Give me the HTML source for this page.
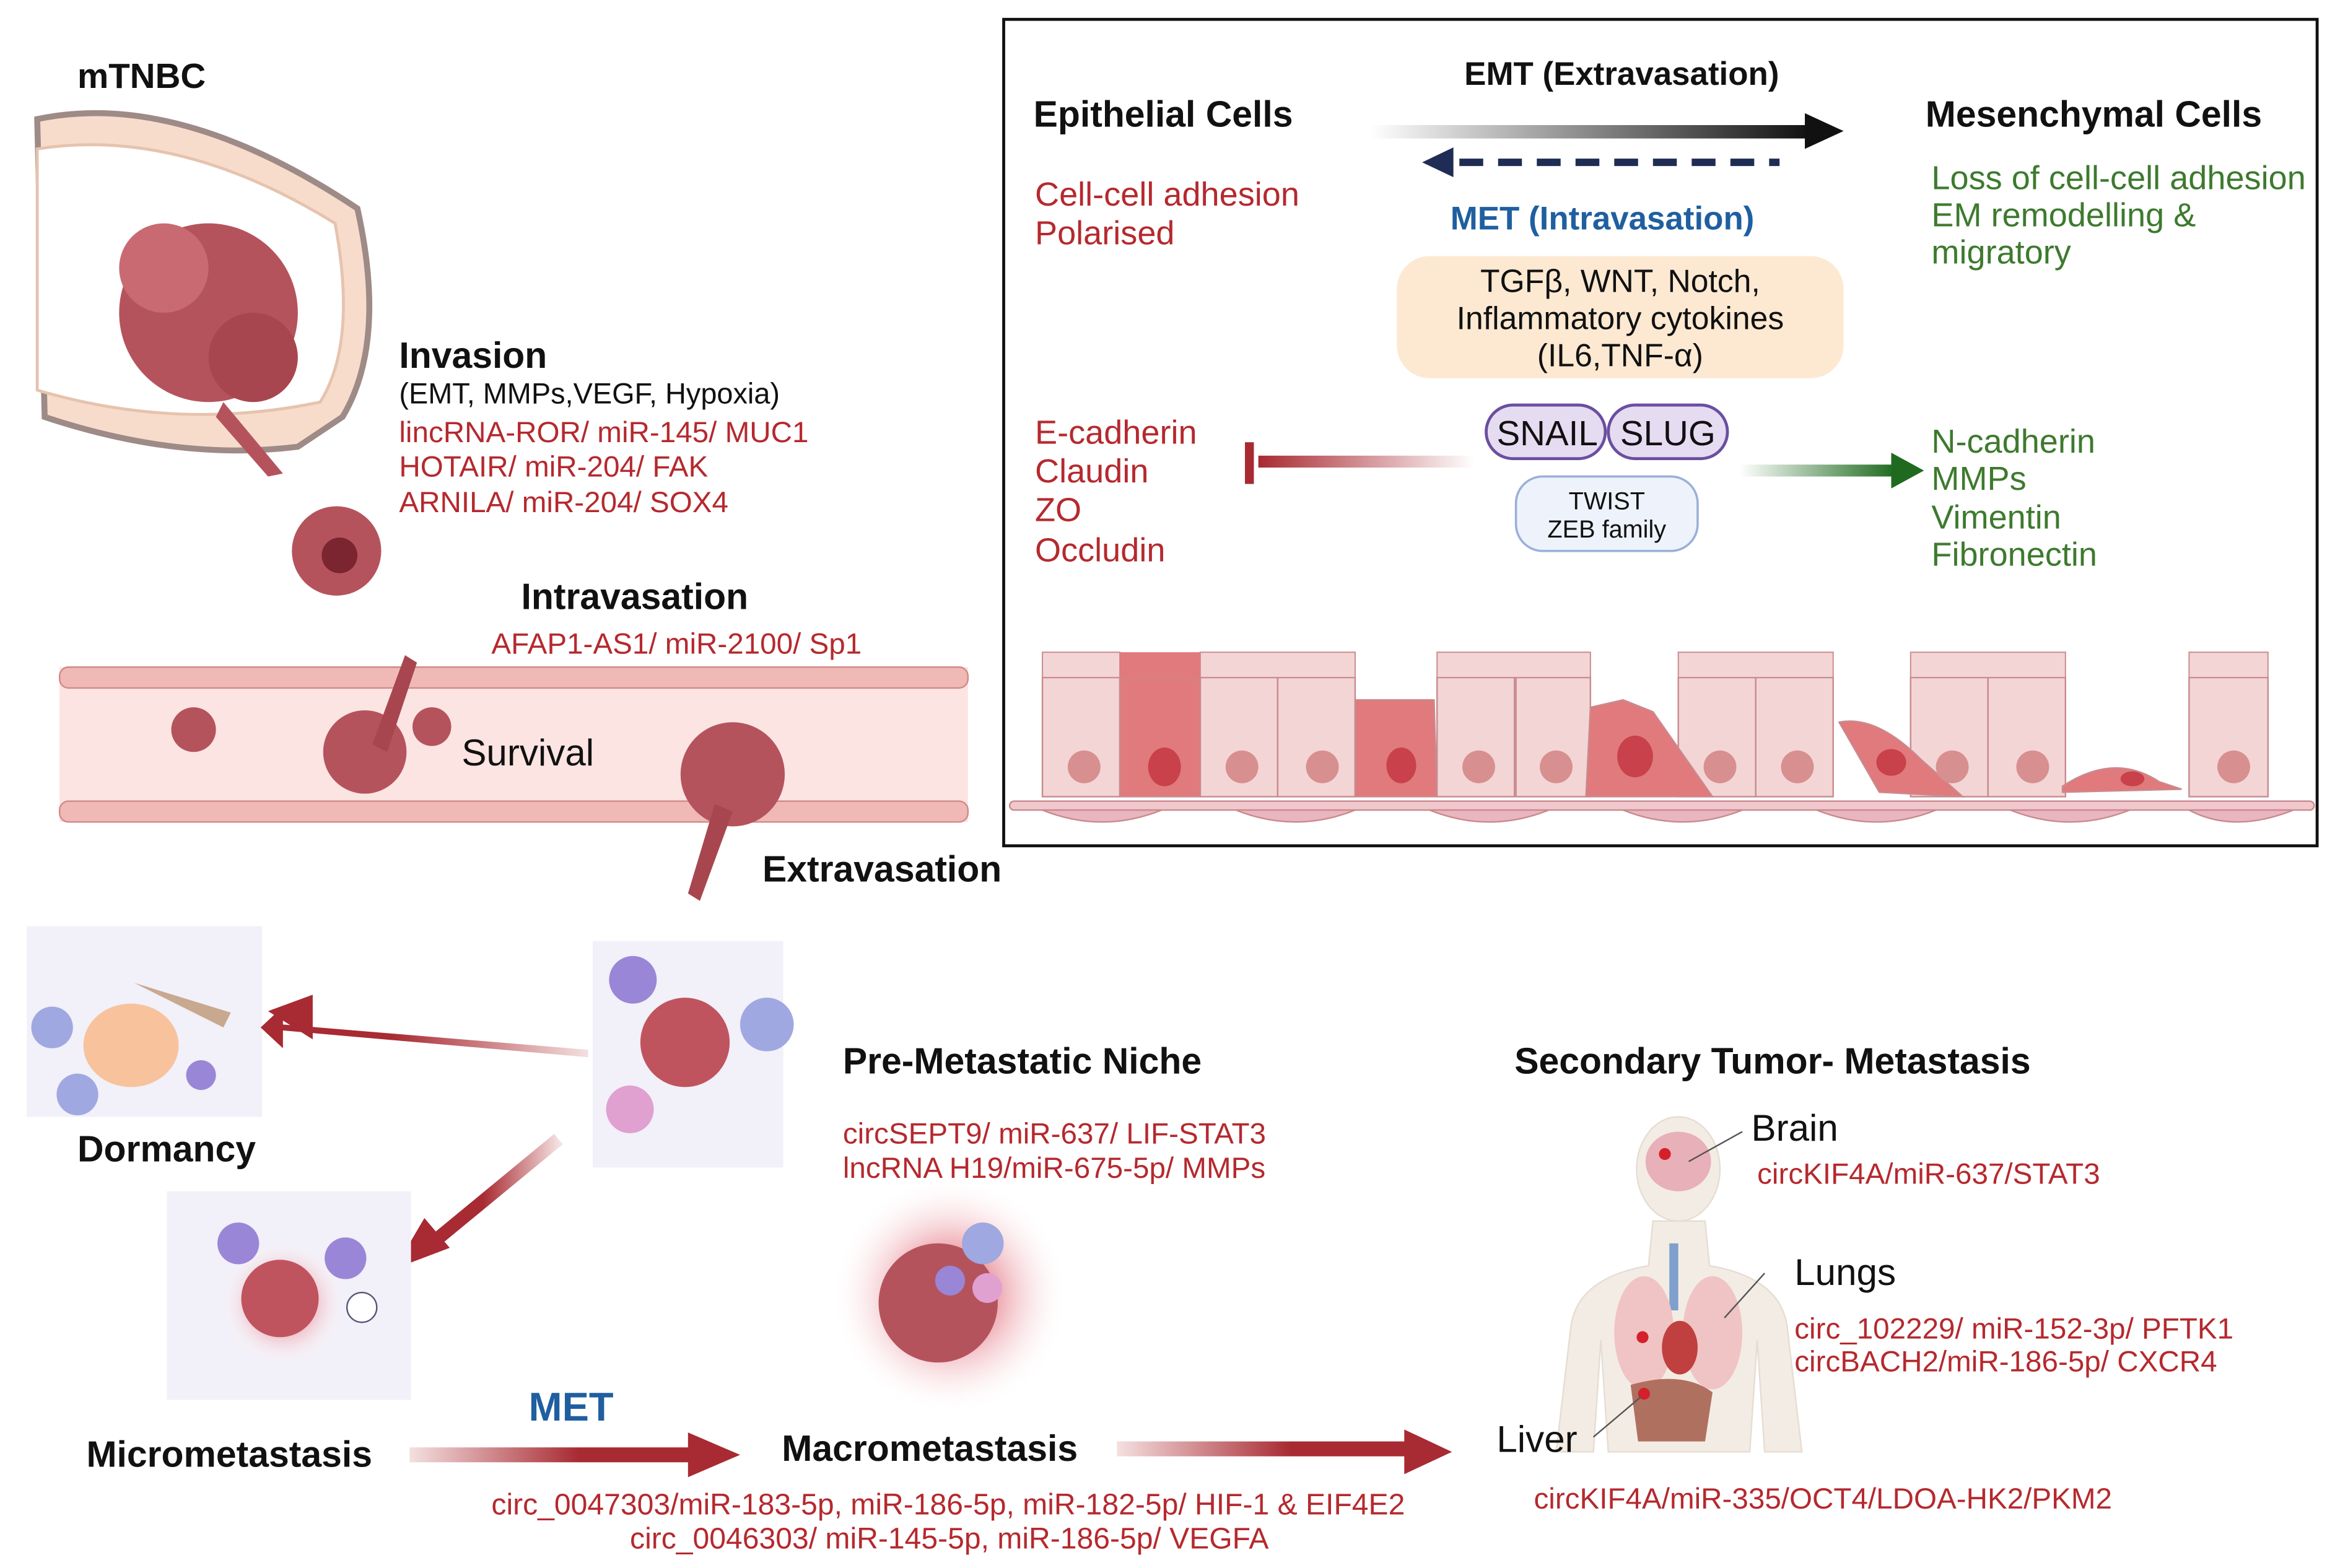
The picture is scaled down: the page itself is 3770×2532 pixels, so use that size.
<!DOCTYPE html>
<html><head><meta charset="utf-8"><style>
html,body{margin:0;padding:0;background:#fff}
svg{display:block}
text{font-family:"Liberation Sans",Arial,sans-serif}
.b{font-weight:bold;fill:#111}
.r{fill:#b5292e}
.g{fill:#3d7a2e}
</style></head><body>
<svg width="3770" height="2532" viewBox="0 0 1568 1053" preserveAspectRatio="none" xmlns="http://www.w3.org/2000/svg">
<defs>
<linearGradient id="ga" x1="0" x2="1"><stop offset="0" stop-color="#fff"/><stop offset="1" stop-color="#111"/></linearGradient>
<linearGradient id="gr" x1="0" x2="1"><stop offset="0" stop-color="#f4e0e0"/><stop offset="0.6" stop-color="#a82a32"/><stop offset="1" stop-color="#a82a32"/></linearGradient>
<linearGradient id="grl" x1="1" x2="0"><stop offset="0" stop-color="#f4e0e0"/><stop offset="0.6" stop-color="#a82a32"/><stop offset="1" stop-color="#a82a32"/></linearGradient>
<linearGradient id="gg" x1="0" x2="1"><stop offset="0" stop-color="#fff"/><stop offset="1" stop-color="#1f6a1f"/></linearGradient>
<linearGradient id="gi" x1="1" x2="0"><stop offset="0" stop-color="#fff"/><stop offset="1" stop-color="#a82a32"/></linearGradient>
<radialGradient id="glow"><stop offset="0.3" stop-color="#e88a96"/><stop offset="1" stop-color="#fff" stop-opacity="0"/></radialGradient>
</defs>

<!-- EMT box -->
<rect x="674" y="13" width="882" height="555" fill="none" stroke="#111" stroke-width="2"/>
<text x="1089" y="57" class="b" font-size="22" text-anchor="middle">EMT (Extravasation)</text>
<text x="694" y="85" class="b" font-size="24.5">Epithelial Cells</text>
<text x="1293" y="85" class="b" font-size="24.5">Mesenchymal Cells</text>
<rect x="920" y="84" width="295" height="9" fill="url(#ga)"/>
<polygon points="1212,76 1238,88 1212,100" fill="#111"/>
<line x1="980" y1="109" x2="1195" y2="109" stroke="#1f2d55" stroke-width="5" stroke-dasharray="16,10"/>
<polygon points="955,109 976,99 976,119" fill="#1f2d55"/>
<text x="1076" y="154" font-size="22" font-weight="bold" fill="#1f5fa0" text-anchor="middle">MET (Intravasation)</text>
<text x="695" y="138" class="r" font-size="22.5">Cell-cell adhesion</text>
<text x="695" y="164" class="r" font-size="22.5">Polarised</text>
<text x="1297" y="127" class="g" font-size="22.5">Loss of cell-cell adhesion</text>
<text x="1297" y="152" class="g" font-size="22.5">EM remodelling &amp;</text>
<text x="1297" y="177" class="g" font-size="22.5">migratory</text>
<rect x="938" y="172" width="300" height="82" rx="22" fill="#fde9d2"/>
<text x="1088" y="196" font-size="21.5" text-anchor="middle" fill="#111">TGFβ, WNT, Notch,</text>
<text x="1088" y="221" font-size="21.5" text-anchor="middle" fill="#111">Inflammatory cytokines</text>
<text x="1088" y="246" font-size="21.5" text-anchor="middle" fill="#111">(IL6,TNF-α)</text>
<rect x="998" y="272" width="80" height="36" rx="18" fill="#e6dcf2" stroke="#6a4fa0" stroke-width="2"/>
<rect x="1080" y="272" width="80" height="36" rx="18" fill="#e6dcf2" stroke="#6a4fa0" stroke-width="2"/>
<text x="1039" y="299" font-size="23.5" text-anchor="middle" fill="#111">SNAIL</text>
<text x="1120" y="299" font-size="23.5" text-anchor="middle" fill="#111">SLUG</text>
<rect x="1018" y="320" width="122" height="50" rx="18" fill="#eef3fb" stroke="#9ab0d8" stroke-width="1.5"/>
<text x="1079" y="342" font-size="16.5" text-anchor="middle" fill="#111">TWIST</text>
<text x="1079" y="361" font-size="16.5" text-anchor="middle" fill="#111">ZEB family</text>
<rect x="845" y="306" width="145" height="8" fill="url(#gi)"/>
<rect x="836" y="297" width="6" height="28" fill="#a82a32"/>
<rect x="1168" y="312" width="105" height="8" fill="url(#gg)"/>
<polygon points="1270,304 1292,316 1270,328" fill="#1f6a1f"/>
<text x="695" y="298" class="r" font-size="22.5">E-cadherin</text>
<text x="695" y="324" class="r" font-size="22.5">Claudin</text>
<text x="695" y="350" class="r" font-size="22.5">ZO</text>
<text x="695" y="377" class="r" font-size="22.5">Occludin</text>
<text x="1297" y="304" class="g" font-size="22.5">N-cadherin</text>
<text x="1297" y="329" class="g" font-size="22.5">MMPs</text>
<text x="1297" y="355" class="g" font-size="22.5">Vimentin</text>
<text x="1297" y="380" class="g" font-size="22.5">Fibronectin</text>

<!-- epithelial row -->
<g stroke="#c98a8e" stroke-width="1">
<g fill="#f3d5d5">
<rect x="700" y="455" width="52" height="80"/><rect x="806" y="455" width="52" height="80"/><rect x="858" y="455" width="52" height="80"/>
<rect x="965" y="455" width="52" height="80"/><rect x="1018" y="455" width="50" height="80"/><rect x="1127" y="455" width="52" height="80"/>
<rect x="1179" y="455" width="52" height="80"/><rect x="1283" y="455" width="52" height="80"/><rect x="1335" y="455" width="52" height="80"/>
<rect x="1470" y="455" width="53" height="80"/>
</g>
<g fill="#e07a7c">
<rect x="752" y="455" width="54" height="80"/>
<path d="M910 470 L910 535 L965 535 L963 470 Z"/>
<path d="M1068 475 L1090 470 L1110 478 L1150 535 L1065 535 Z"/>
<path d="M1235 485 Q1260 480 1290 510 L1318 535 L1262 532 Z"/>
<path d="M1385 528 Q1420 505 1450 525 L1465 530 L1385 532 Z"/>
</g>
</g>
<g fill="#f3d5d5" stroke="#c98a8e" stroke-width="0.8">
<rect x="700" y="438" width="52" height="17"/><rect x="806" y="438" width="104" height="17"/><rect x="965" y="438" width="103" height="17"/>
<rect x="1127" y="438" width="104" height="17"/><rect x="1283" y="438" width="104" height="17"/><rect x="1470" y="438" width="53" height="17"/>
</g>
<rect x="752" y="438" width="54" height="17" fill="#e07a7c"/>
<g fill="#d88f90"><circle cx="728" cy="515" r="11"/><circle cx="834" cy="515" r="11"/><circle cx="888" cy="515" r="11"/><circle cx="993" cy="515" r="11"/><circle cx="1045" cy="515" r="11"/><circle cx="1155" cy="515" r="11"/><circle cx="1207" cy="515" r="11"/><circle cx="1311" cy="515" r="11"/><circle cx="1365" cy="515" r="11"/><circle cx="1500" cy="515" r="11"/></g>
<g fill="#c9414a"><ellipse cx="782" cy="515" rx="11" ry="13"/><ellipse cx="941" cy="514" rx="10" ry="12"/><ellipse cx="1098" cy="508" rx="12" ry="14"/><ellipse cx="1270" cy="512" rx="10" ry="9"/><ellipse cx="1432" cy="523" rx="8" ry="5"/></g>
<rect x="678" y="538" width="876" height="6" rx="3" fill="#f0c8cd" stroke="#c98a8e"/>
<g fill="#e9b6c0" stroke="#c98a8e"><path d="M700 544 Q740 560 780 544Z"/><path d="M830 544 Q870 560 910 544Z"/><path d="M960 544 Q1000 560 1040 544Z"/><path d="M1090 544 Q1130 560 1170 544Z"/><path d="M1220 544 Q1260 560 1300 544Z"/><path d="M1350 544 Q1390 560 1430 544Z"/><path d="M1470 544 Q1500 560 1540 544Z"/></g>

<!-- mTNBC -->
<text x="52" y="59" class="b" font-size="23.5">mTNBC</text>
<path d="M25 80 Q120 60 240 140 Q260 230 230 280 L200 300 Q120 310 30 280 Z" fill="#f7dccc" stroke="#9e8a86" stroke-width="4"/>
<path d="M25 100 Q120 85 225 150 Q240 230 215 270 Q120 290 25 262 Z" fill="#fff" stroke="#e6c3ae" stroke-width="2"/>
<circle cx="140" cy="210" r="60" fill="#b5535d"/>
<circle cx="110" cy="180" r="30" fill="#c96a72"/><circle cx="170" cy="240" r="30" fill="#a8464f"/>
<path d="M150 270 L190 318 L180 320 L145 280Z" fill="#b5535d"/>
<text x="268" y="247" class="b" font-size="24.5">Invasion</text>
<text x="268" y="271" font-size="19.5" fill="#111">(EMT, MMPs,VEGF, Hypoxia)</text>
<text x="268" y="297" class="r" font-size="19.8">lincRNA-ROR/ miR-145/ MUC1</text>
<text x="268" y="320" class="r" font-size="19.8">HOTAIR/ miR-204/ FAK</text>
<text x="268" y="344" class="r" font-size="19.8">ARNILA/ miR-204/ SOX4</text>
<circle cx="226" cy="370" r="30" fill="#b5535d"/><circle cx="228" cy="373" r="12" fill="#7a2530"/>

<!-- vessel -->
<text x="350" y="409" class="b" font-size="24.5">Intravasation</text>
<text x="330" y="439" class="r" font-size="19.8">AFAP1-AS1/ miR-2100/ Sp1</text>
<rect x="40" y="448" width="610" height="104" fill="#fbe4e2"/>
<rect x="40" y="448" width="610" height="14" rx="6" fill="#f0b9b6" stroke="#d08a88"/>
<rect x="40" y="538" width="610" height="14" rx="6" fill="#f0b9b6" stroke="#d08a88"/>
<circle cx="130" cy="490" r="15" fill="#b5535d"/>
<circle cx="245" cy="505" r="28" fill="#b5535d"/>
<path d="M250 500 L272 440 L280 445 L260 505Z" fill="#a8464f"/>
<circle cx="290" cy="488" r="13" fill="#b5535d"/>
<text x="310" y="514" font-size="25" fill="#111">Survival</text>
<circle cx="492" cy="520" r="35" fill="#b5535d"/>
<path d="M480 540 L462 600 L470 605 L492 545Z" fill="#a8464f"/>
<text x="512" y="592" class="b" font-size="24.5">Extravasation</text>

<!-- dormancy / niche images -->
<rect x="18" y="622" width="158" height="128" fill="#f2f0f8"/>
<ellipse cx="88" cy="702" rx="32" ry="28" fill="#f7c29c"/>
<circle cx="35" cy="690" r="14" fill="#9fa8e0"/><circle cx="52" cy="735" r="14" fill="#9fa8e0"/><circle cx="135" cy="722" r="10" fill="#9a86d6"/>
<path d="M90 660 L150 690 L155 680 Z" fill="#c9a890"/>
<text x="52" y="780" class="b" font-size="24.5">Dormancy</text>
<rect x="398" y="632" width="128" height="152" fill="#f2f0f8"/>
<circle cx="460" cy="700" r="30" fill="#c0545e"/><circle cx="515" cy="688" r="18" fill="#9fa8e0"/><circle cx="425" cy="658" r="16" fill="#9a86d6"/><circle cx="423" cy="745" r="16" fill="#e0a0d0"/>
<polygon points="395,705 190,688 190,676 175,690 190,704 190,692 395,710" fill="url(#grl)"/>
<polygon points="180,679 210,668 210,698" fill="#a82a32"/>
<line x1="375" y1="765" x2="290" y2="835" stroke="url(#grl)" stroke-width="9"/>
<polygon points="265,852 285,818 302,838" fill="#a82a32"/>
<rect x="112" y="800" width="164" height="140" fill="#f2f0f8"/>
<circle cx="190" cy="875" r="42" fill="url(#glow)"/><circle cx="188" cy="872" r="26" fill="#c0545e"/>
<circle cx="160" cy="835" r="14" fill="#9a86d6"/><circle cx="232" cy="845" r="14" fill="#9a86d6"/><circle cx="243" cy="878" r="10" fill="#fff" stroke="#557"/>
<text x="58" y="985" class="b" font-size="24.5">Micrometastasis</text>

<!-- pre-metastatic niche -->
<text x="566" y="721" class="b" font-size="24.5">Pre-Metastatic Niche</text>
<text x="566" y="768" class="r" font-size="19.8">circSEPT9/ miR-637/ LIF-STAT3</text>
<text x="566" y="791" class="r" font-size="19.8">lncRNA H19/miR-675-5p/ MMPs</text>
<circle cx="638" cy="870" r="80" fill="url(#glow)"/>
<circle cx="630" cy="875" r="40" fill="#b5535d"/><circle cx="660" cy="835" r="14" fill="#9fa8e0"/><circle cx="638" cy="860" r="10" fill="#9a86d6"/><circle cx="663" cy="865" r="10" fill="#e0a0d0"/>

<text x="355" y="954" font-size="27" font-weight="bold" fill="#1f5fa0">MET</text>
<rect x="275" y="972" width="190" height="10" fill="url(#gr)"/>
<polygon points="462,962 497,977 462,992" fill="#a82a32"/>
<text x="525" y="981" class="b" font-size="24.5">Macrometastasis</text>
<rect x="750" y="968" width="195" height="10" fill="url(#gr)"/>
<polygon points="943,960 975,975 943,990" fill="#a82a32"/>
<text x="330" y="1017" class="r" font-size="20">circ_0047303/miR-183-5p, miR-186-5p, miR-182-5p/ HIF-1 &amp; EIF4E2</text>
<text x="423" y="1040" class="r" font-size="20">circ_0046303/ miR-145-5p, miR-186-5p/ VEGFA</text>

<!-- secondary -->
<text x="1017" y="721" class="b" font-size="24.5">Secondary Tumor- Metastasis</text>
<g fill="#f3ece4" stroke="#e6ddd2">
<ellipse cx="1127" cy="785" rx="28" ry="35"/>
<path d="M1110 820 L1145 820 L1148 850 Q1195 858 1200 890 L1210 975 L1185 975 L1180 900 L1175 975 L1080 975 L1075 900 L1070 975 L1045 975 L1055 890 Q1060 858 1107 850Z"/>
</g>
<ellipse cx="1127" cy="780" rx="22" ry="20" fill="#e8b0b8"/>
<circle cx="1118" cy="775" r="4" fill="#d4202a"/>
<rect x="1121" y="835" width="6" height="45" fill="#7fa0cc"/>
<ellipse cx="1104" cy="895" rx="20" ry="38" fill="#f0c4c4"/><ellipse cx="1150" cy="895" rx="20" ry="38" fill="#f0c4c4"/>
<ellipse cx="1128" cy="905" rx="12" ry="18" fill="#c04040"/>
<circle cx="1103" cy="898" r="4" fill="#d4202a"/>
<path d="M1095 930 Q1130 920 1150 935 L1145 968 L1100 968Z" fill="#b07060"/>
<circle cx="1104" cy="936" r="4" fill="#d4202a"/>
<g stroke="#555" stroke-width="1"><line x1="1134" y1="780" x2="1170" y2="760"/><line x1="1158" y1="885" x2="1185" y2="855"/><line x1="1070" y1="965" x2="1102" y2="938"/></g>
<text x="1176" y="766" font-size="25" fill="#111">Brain</text>
<text x="1180" y="795" class="r" font-size="19.8">circKIF4A/miR-637/STAT3</text>
<text x="1205" y="863" font-size="25" fill="#111">Lungs</text>
<text x="1205" y="899" class="r" font-size="19.8">circ_102229/ miR-152-3p/ PFTK1</text>
<text x="1205" y="921" class="r" font-size="19.8">circBACH2/miR-186-5p/ CXCR4</text>
<text x="1005" y="975" font-size="25" fill="#111">Liver</text>
<text x="1030" y="1013" class="r" font-size="19.8">circKIF4A/miR-335/OCT4/LDOA-HK2/PKM2</text>
</svg>
</body></html>
